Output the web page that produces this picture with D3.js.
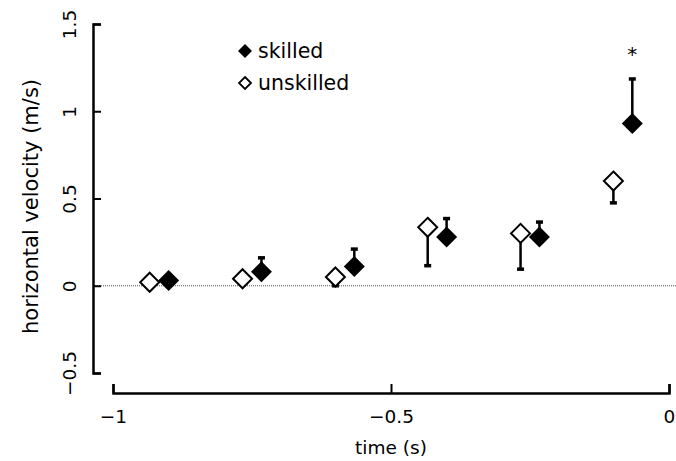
<!DOCTYPE html>
<html lang="en">
<head>
    <meta charset="UTF-8">
    <title>horizontal velocity</title>
    <script src="https://d3js.org/d3.v7.min.js"></script>
    <style>
        body { margin: 0; background: #fff; }
        text { font-family: "DejaVu Sans", sans-serif; fill: #000; }
    </style>
</head>
<body>
    <script>
        // bin centres (s) and group means / SD (m/s)
        var times = [-0.917, -0.75, -0.583, -0.417, -0.25, -0.083];
        var skilled = [0.03, 0.08, 0.11, 0.28, 0.28, 0.93];
        var skilledSD = [0.01, 0.08, 0.10, 0.105, 0.085, 0.255];
        var unskilled = [0.02, 0.04, 0.05, 0.335, 0.30, 0.60];
        var unskilledSD = [0.01, 0.02, 0.05, 0.22, 0.205, 0.125];
        var xTicks = [-1, -0.5, 0];
        var yTicks = [-0.5, 0, 0.5, 1, 1.5];
        var starIndex = 5;   // significant difference marker

        var W = 676, H = 461;
        var margin = {top: 24, left: 93};
        var shift = 0.017;   // horizontal offset between the two groups
        var fs = "18.5px";

        var svg = d3.select("body").append("svg")
            .attr("width", W)
            .attr("height", H);

        var g = svg.append("g")
            .attr("transform", "translate(" + margin.left + "," + margin.top + ")");

        var x = d3.scaleLinear().domain([-1, 0]).range([20, 576]);
        var y = d3.scaleLinear().domain([-0.5, 1.5]).range([349, 0]);

        // dotted zero line
        g.append("line")
            .attr("x1", 0).attr("x2", W - margin.left)
            .attr("y1", y(0)).attr("y2", y(0))
            .attr("stroke", "#555")
            .attr("stroke-width", 1)
            .attr("stroke-dasharray", "1,1");

        // y axis, ticks pointing inward
        var yAxis = g.append("g")
            .call(d3.axisLeft(y).tickValues(yTicks).tickSize(-8).tickFormat(d3.format("")));
        yAxis.select(".domain").attr("stroke-width", 2.5);
        yAxis.selectAll(".tick line").attr("stroke-width", 2);
        yAxis.selectAll(".tick text")
            .attr("x", 0).attr("y", -17).attr("dy", null)
            .attr("transform", "rotate(-90)")
            .style("text-anchor", "middle")
            .style("font-size", fs)
            .style("font-family", "DejaVu Sans, sans-serif");

        // x axis, ticks pointing up
        var xAxis = g.append("g")
            .attr("transform", "translate(0,369)")
            .call(d3.axisBottom(x).tickValues(xTicks).tickSize(-9).tickPadding(17).tickFormat(d3.format("")));
        xAxis.select(".domain").attr("stroke-width", 2.5);
        xAxis.selectAll(".tick line").attr("stroke-width", 2);
        xAxis.selectAll(".tick text")
            .style("font-size", fs)
            .style("font-family", "DejaVu Sans, sans-serif");

        // axis titles
        svg.append("text")
            .attr("x", margin.left + x(-0.5))
            .attr("y", 454)
            .style("text-anchor", "middle")
            .style("font-size", fs)
            .text("time (s)");

        svg.append("text")
            .attr("transform", "translate(38," + (margin.top + y(0.5) + 8) + ") rotate(-90)")
            .style("text-anchor", "middle")
            .style("font-size", "21px")
            .text("horizontal velocity (m/s)");

        var skillData = times.map(function(t, i) { return {t: t + shift, v: skilled[i], sd: skilledSD[i]}; });
        var unskillData = times.map(function(t, i) { return {t: t - shift, v: unskilled[i], sd: unskilledSD[i]}; });

        function diamond(r) {
            return "M0," + (-r) + "L" + r + ",0L0," + r + "L" + (-r) + ",0Z";
        }

        // error bars: skilled upward, unskilled downward
        function errorBars(data, dir) {
            var eb = g.append("g").selectAll("g").data(data).enter().append("g");
            eb.append("line")
                .attr("x1", function(d) { return x(d.t); })
                .attr("x2", function(d) { return x(d.t); })
                .attr("y1", function(d) { return y(d.v); })
                .attr("y2", function(d) { return y(d.v + dir * d.sd); })
                .attr("stroke", "#000")
                .attr("stroke-width", 2.5);
            eb.append("line")
                .attr("x1", function(d) { return x(d.t) - 3.5; })
                .attr("x2", function(d) { return x(d.t) + 3.5; })
                .attr("y1", function(d) { return y(d.v + dir * d.sd); })
                .attr("y2", function(d) { return y(d.v + dir * d.sd); })
                .attr("stroke", "#000")
                .attr("stroke-width", 3.5);
        }
        errorBars(unskillData, -1);
        errorBars(skillData, 1);

        g.selectAll(".open")
            .data(unskillData)
          .enter().append("path")
            .attr("class", "open")
            .attr("d", diamond(9.5))
            .attr("transform", function(d) { return "translate(" + x(d.t) + "," + y(d.v) + ")"; })
            .attr("fill", "#fff")
            .attr("stroke", "#000")
            .attr("stroke-width", 2);

        g.selectAll(".filled")
            .data(skillData)
          .enter().append("path")
            .attr("class", "filled")
            .attr("d", diamond(10.5))
            .attr("transform", function(d) { return "translate(" + x(d.t) + "," + y(d.v) + ")"; })
            .attr("fill", "#000");

        // asterisk above the last skilled bar
        g.append("text")
            .attr("x", x(times[starIndex] + shift))
            .attr("y", y(skilled[starIndex] + skilledSD[starIndex]) - 18)
            .style("text-anchor", "middle")
            .style("font-size", "20px")
            .text("*");

        // legend
        var legend = svg.append("g").attr("transform", "translate(245,51)");
        legend.append("path").attr("d", diamond(7)).attr("fill", "#000");
        legend.append("text").attr("x", 13).attr("y", 7).style("font-size", "20.5px").text("skilled");
        legend.append("path").attr("d", diamond(6))
            .attr("transform", "translate(0,32)")
            .attr("fill", "#fff").attr("stroke", "#000").attr("stroke-width", 1.8);
        legend.append("text").attr("x", 13).attr("y", 39).style("font-size", "20.5px").text("unskilled");
    </script>
</body>
</html>
